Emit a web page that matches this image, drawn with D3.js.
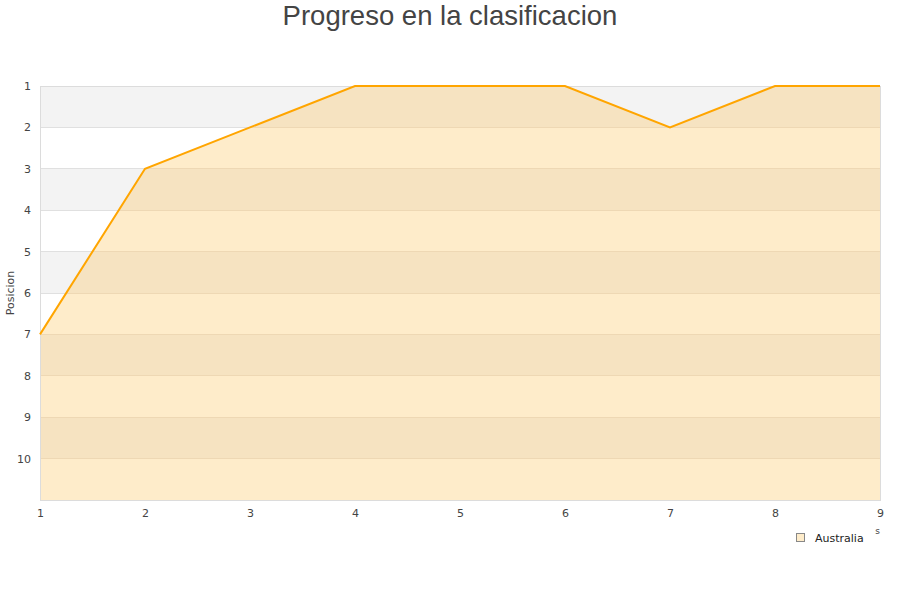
<!DOCTYPE html>
<html><head><meta charset="utf-8">
<script src="https://cdn.jsdelivr.net/npm/d3@7/dist/d3.min.js"></script>
<style>body{margin:0;background:#fff}svg{display:block}</style>
</head><body>
<svg id="c" width="900" height="600"></svg>
<script>
const rounds = [1, 2, 3, 4, 5, 6, 7, 8, 9];
const positions = [7, 3, 2, 1, 1, 1, 2, 1, 1];
const yTicks = [1, 2, 3, 4, 5, 6, 7, 8, 9, 10];
const seriesName = "Australia";
const titleText = "Progreso en la clasificacion";
const yTitle = "Posicion";
const xTitle = "Jornadas";

const svg = d3.select("#c");
const L = 40, R = 880, T = 86, B = 500;
const x = d3.scaleLinear().domain([1, 9]).range([L, R]);
const y = d3.scaleLinear().domain([1, 11]).range([T, B]);
const data = rounds.map((r, i) => ({r, p: positions[i]}));

svg.append("text").attr("x", 450).attr("y", 25).attr("text-anchor", "middle")
  .attr("font-family", "Liberation Sans, Arial, sans-serif").attr("font-size", 27.5)
  .attr("fill", "#444").text(titleText);

// background bands
const bands = d3.range(1, 11);
svg.append("g").selectAll("rect").data(bands).join("rect")
  .attr("x", L).attr("width", R - L)
  .attr("y", d => y(d)).attr("height", d => y(d + 1) - y(d))
  .attr("fill", d => d % 2 === 1 ? "#f3f3f3" : "#ffffff");

// area
const area = d3.area().x(d => x(d.r)).y0(B).y1(d => y(d.p));
svg.append("defs").append("clipPath").attr("id", "ac").append("path").attr("d", area(data));
svg.append("path").attr("d", area(data)).attr("fill", "#feecca");
svg.append("g").attr("clip-path", "url(#ac)").selectAll("rect").data(bands.filter(d => d % 2 === 1)).join("rect")
  .attr("x", L).attr("width", R - L)
  .attr("y", d => y(d)).attr("height", d => y(d + 1) - y(d))
  .attr("fill", "#f6e3c1");

// gridlines
svg.append("g").selectAll("line").data(yTicks.slice(1)).join("line")
  .attr("x1", L).attr("x2", R).attr("y1", d => y(d)).attr("y2", d => y(d))
  .attr("stroke", "#e0e0e0").attr("stroke-width", 1).attr("shape-rendering", "crispEdges");
svg.append("g").attr("clip-path", "url(#ac)").selectAll("line").data(yTicks.slice(1)).join("line")
  .attr("x1", L).attr("x2", R).attr("y1", d => y(d)).attr("y2", d => y(d))
  .attr("stroke", "#eed8b4").attr("stroke-width", 1).attr("shape-rendering", "crispEdges");

// frame
svg.append("rect").attr("x", L).attr("y", T).attr("width", R - L).attr("height", B - T)
  .attr("fill", "none").attr("stroke", "#dcdcdc").attr("shape-rendering", "crispEdges");

// line
svg.append("path").datum(data)
  .attr("d", d3.line().x(d => x(d.r)).y(d => y(d.p)))
  .attr("fill", "none").attr("stroke", "#ffa500").attr("stroke-width", 2);

// axes
const yAxis = d3.axisLeft(y).tickValues(yTicks).tickSize(0).tickPadding(9).tickFormat(d3.format("d"));
const gy = svg.append("g").attr("transform", `translate(${L},0)`).call(yAxis);
gy.select(".domain").remove();
gy.selectAll("text").attr("font-family", "DejaVu Sans, sans-serif").attr("font-size", 11).attr("fill", "#444");

const xAxis = d3.axisBottom(x).tickValues(rounds).tickSize(0).tickPadding(9).tickFormat(d3.format("d"));
const gx = svg.append("g").attr("transform", `translate(0,${B})`).call(xAxis);
gx.select(".domain").remove();
gx.selectAll("text").attr("font-family", "DejaVu Sans, sans-serif").attr("font-size", 11).attr("fill", "#444");

svg.append("text").attr("transform", "translate(14,293) rotate(-90)").attr("text-anchor", "middle")
  .attr("font-family", "DejaVu Sans, sans-serif").attr("font-size", 11).attr("fill", "#444").text(yTitle);

svg.append("text").attr("x", 880).attr("y", 534).attr("text-anchor", "end")
  .attr("font-family", "DejaVu Sans, sans-serif").attr("font-size", 9).attr("fill", "#444").text(xTitle);

// legend
const lg = svg.append("g");
lg.append("rect").attr("x", 792).attr("y", 526).attr("width", 83).attr("height", 22).attr("fill", "#fff");
lg.append("rect").attr("x", 796.5).attr("y", 533.5).attr("width", 8).attr("height", 8)
  .attr("fill", "#feecca").attr("stroke", "#888");
lg.append("text").attr("x", 815).attr("y", 541.5).attr("font-family", "DejaVu Sans, sans-serif")
  .attr("font-size", 11).attr("fill", "#222").text(seriesName);
</script>
</body></html>
